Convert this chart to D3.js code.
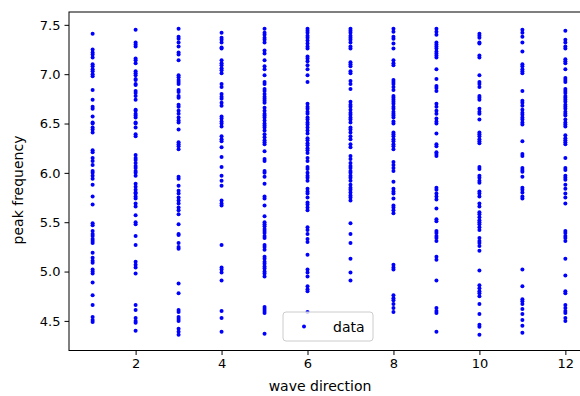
<!DOCTYPE html>
<html>
<head>
<meta charset="utf-8">
<script src="https://cdn.jsdelivr.net/npm/d3@7"></script>
<style>
  body { margin: 0; background: #fff; }
  svg { display: block; font-family: "DejaVu Sans", sans-serif; }
</style>
</head>
<body>
<div id="chart"></div>
<script>
// wave direction categories (x)
const directions = [1, 2, 3, 4, 5, 6, 7, 8, 9, 10, 11, 12];

// peak frequency values per direction
const dir1 = [7.41, 7.25, 7.22, 7.20, 7.17, 7.10, 7.08, 7.05, 7.03, 7.00, 6.98, 6.84, 6.74, 6.67, 6.65, 6.57, 6.51, 6.50, 6.46, 6.44, 6.41, 6.23, 6.21, 6.15, 6.12, 6.08, 6.02, 6.00, 5.97, 5.94, 5.88, 5.76, 5.68, 5.49, 5.47, 5.41, 5.38, 5.36, 5.33, 5.31, 5.29, 5.19, 5.14, 5.11, 5.09, 5.02, 5.00, 4.98, 4.89, 4.76, 4.66, 4.54, 4.51, 4.49];
const dir2 = [7.45, 7.32, 7.30, 7.28, 7.16, 7.14, 7.11, 7.03, 7.01, 6.99, 6.95, 6.94, 6.90, 6.89, 6.83, 6.81, 6.78, 6.74, 6.64, 6.63, 6.60, 6.58, 6.56, 6.51, 6.50, 6.46, 6.39, 6.37, 6.18, 6.15, 6.13, 6.10, 6.07, 6.05, 6.02, 6.00, 5.97, 5.89, 5.86, 5.83, 5.80, 5.79, 5.76, 5.74, 5.69, 5.66, 5.57, 5.50, 5.48, 5.36, 5.27, 5.10, 5.07, 5.04, 4.98, 4.66, 4.61, 4.53, 4.50, 4.48, 4.40];
const dir3 = [7.46, 7.38, 7.36, 7.32, 7.28, 7.22, 7.20, 7.14, 6.99, 6.97, 6.94, 6.92, 6.90, 6.84, 6.82, 6.78, 6.76, 6.69, 6.67, 6.63, 6.60, 6.56, 6.53, 6.51, 6.44, 6.31, 6.29, 6.27, 6.24, 5.96, 5.94, 5.87, 5.82, 5.79, 5.75, 5.72, 5.69, 5.65, 5.62, 5.58, 5.48, 5.38, 5.37, 5.29, 5.25, 5.23, 4.88, 4.78, 4.61, 4.59, 4.54, 4.52, 4.50, 4.42, 4.39, 4.36];
const dir4 = [7.42, 7.37, 7.35, 7.32, 7.27, 7.26, 7.14, 7.11, 7.09, 7.06, 7.04, 7.01, 6.90, 6.87, 6.80, 6.77, 6.75, 6.71, 6.68, 6.57, 6.55, 6.52, 6.50, 6.47, 6.37, 6.34, 6.32, 6.26, 6.16, 6.06, 5.97, 5.92, 5.87, 5.72, 5.69, 5.67, 5.27, 5.04, 5.02, 4.99, 4.91, 4.60, 4.53, 4.39];
const dir5 = [7.46, 7.42, 7.40, 7.37, 7.35, 7.32, 7.24, 7.21, 7.14, 7.08, 7.05, 6.99, 6.92, 6.90, 6.85, 6.83, 6.80, 6.77, 6.75, 6.73, 6.71, 6.66, 6.63, 6.60, 6.58, 6.56, 6.53, 6.50, 6.48, 6.46, 6.43, 6.39, 6.36, 6.33, 6.31, 6.29, 6.22, 6.14, 6.12, 6.02, 6.00, 5.96, 5.89, 5.76, 5.74, 5.67, 5.56, 5.50, 5.48, 5.46, 5.43, 5.41, 5.39, 5.36, 5.34, 5.27, 5.25, 5.22, 5.15, 5.13, 5.10, 5.08, 5.05, 5.03, 5.00, 4.98, 4.95, 4.64, 4.62, 4.60, 4.58, 4.37];
const dir6 = [7.46, 7.44, 7.42, 7.39, 7.37, 7.34, 7.31, 7.28, 7.26, 7.18, 7.16, 7.13, 7.09, 7.05, 6.99, 6.92, 6.70, 6.67, 6.65, 6.62, 6.60, 6.56, 6.54, 6.51, 6.49, 6.46, 6.43, 6.40, 6.35, 6.33, 6.30, 6.28, 6.25, 6.23, 6.20, 6.15, 6.12, 6.06, 6.04, 6.00, 5.97, 5.95, 5.92, 5.84, 5.81, 5.79, 5.75, 5.70, 5.68, 5.65, 5.62, 5.45, 5.42, 5.38, 5.33, 5.30, 5.17, 5.02, 4.99, 4.95, 4.85, 4.82, 4.80, 4.59];
const dir7 = [7.46, 7.44, 7.42, 7.39, 7.37, 7.35, 7.32, 7.28, 7.26, 7.12, 7.10, 7.08, 7.03, 7.01, 6.93, 6.90, 6.85, 6.72, 6.69, 6.67, 6.64, 6.61, 6.59, 6.56, 6.54, 6.51, 6.46, 6.44, 6.41, 6.37, 6.34, 6.29, 6.26, 6.17, 6.14, 6.10, 6.07, 6.05, 6.02, 6.00, 5.97, 5.95, 5.92, 5.88, 5.85, 5.83, 5.80, 5.77, 5.75, 5.72, 5.49, 5.38, 5.29, 5.13, 4.99, 4.91];
const dir8 = [7.46, 7.43, 7.38, 7.36, 7.31, 7.26, 7.14, 7.11, 7.09, 6.94, 6.92, 6.90, 6.87, 6.84, 6.78, 6.76, 6.74, 6.72, 6.70, 6.67, 6.65, 6.62, 6.60, 6.58, 6.56, 6.52, 6.50, 6.41, 6.39, 6.37, 6.34, 6.32, 6.29, 6.27, 6.24, 6.11, 6.08, 6.05, 6.02, 5.91, 5.84, 5.81, 5.79, 5.74, 5.67, 5.65, 5.62, 5.59, 5.07, 5.04, 5.02, 4.76, 4.73, 4.71, 4.67, 4.63, 4.59];
const dir9 = [7.46, 7.43, 7.40, 7.32, 7.30, 7.28, 7.26, 7.23, 7.21, 7.19, 7.17, 7.05, 6.95, 6.88, 6.86, 6.83, 6.70, 6.67, 6.63, 6.60, 6.55, 6.52, 6.50, 6.40, 6.29, 6.27, 6.21, 6.19, 6.17, 5.85, 5.83, 5.79, 5.76, 5.73, 5.64, 5.53, 5.51, 5.41, 5.39, 5.36, 5.34, 5.31, 5.15, 5.12, 4.91, 4.63, 4.60, 4.58, 4.39];
const dir10 = [7.41, 7.39, 7.37, 7.32, 7.31, 7.19, 7.17, 6.99, 6.92, 6.90, 6.87, 6.78, 6.76, 6.74, 6.65, 6.62, 6.60, 6.54, 6.41, 6.39, 6.37, 6.34, 6.32, 6.30, 6.06, 6.04, 5.97, 5.95, 5.92, 5.90, 5.81, 5.79, 5.76, 5.69, 5.66, 5.60, 5.58, 5.55, 5.52, 5.50, 5.48, 5.45, 5.42, 5.34, 5.31, 5.29, 5.26, 5.21, 5.01, 4.86, 4.83, 4.80, 4.78, 4.75, 4.67, 4.57, 4.46, 4.44, 4.36];
const dir11 = [7.45, 7.42, 7.38, 7.32, 7.23, 7.10, 7.08, 7.05, 7.03, 7.01, 6.83, 6.73, 6.71, 6.68, 6.64, 6.61, 6.59, 6.56, 6.54, 6.51, 6.49, 6.32, 6.19, 6.17, 6.05, 6.03, 6.01, 5.96, 5.85, 5.83, 5.80, 5.76, 5.74, 5.02, 4.85, 4.72, 4.70, 4.67, 4.62, 4.57, 4.51, 4.45, 4.38];
const dir12 = [7.44, 7.35, 7.32, 7.28, 7.26, 7.15, 7.13, 7.11, 7.05, 6.96, 6.94, 6.92, 6.85, 6.83, 6.81, 6.78, 6.76, 6.74, 6.72, 6.69, 6.67, 6.65, 6.62, 6.60, 6.58, 6.54, 6.51, 6.49, 6.47, 6.38, 6.35, 6.33, 6.31, 6.29, 6.15, 6.05, 6.03, 5.97, 5.95, 5.93, 5.88, 5.84, 5.79, 5.75, 5.69, 5.41, 5.39, 5.36, 5.34, 5.31, 5.13, 4.96, 4.80, 4.78, 4.66, 4.63, 4.60, 4.58, 4.53, 4.50];

const xTicks = [2, 4, 6, 8, 10, 12];
const yTicks = [4.5, 5.0, 5.5, 6.0, 6.5, 7.0, 7.5];

const columns = [dir1, dir2, dir3, dir4, dir5, dir6, dir7, dir8, dir9, dir10, dir11, dir12];
const points = [];
columns.forEach((vals, i) => {
  vals.forEach(v => points.push({ dir: directions[i], freq: v }));
});

const width = 580, height = 396;
const plot = { left: 69, right: 589, top: 12, bottom: 350.5 };

const svg = d3.select('#chart').append('svg')
  .attr('width', width)
  .attr('height', height);

const x = d3.scaleLinear().domain([0.45, 12.55]).range([plot.left, plot.right]);
const y = d3.scaleLinear().domain([4.2, 7.63]).range([plot.bottom, plot.top]);

// points
svg.append('g')
  .selectAll('circle')
  .data(points)
  .enter().append('circle')
  .attr('cx', d => x(d.dir))
  .attr('cy', d => y(d.freq))
  .attr('r', 2)
  .attr('fill', '#0000ff');

// axes
const xAxis = svg.append('g')
  .attr('transform', `translate(0,${plot.bottom})`)
  .call(d3.axisBottom(x).tickValues(xTicks).tickSize(4.5).tickPadding(4).tickFormat(d3.format('d')));
const yAxis = svg.append('g')
  .attr('transform', `translate(${plot.left},0)`)
  .call(d3.axisLeft(y).tickValues(yTicks).tickSize(4.5).tickPadding(4).tickFormat(d3.format('.1f')));

[xAxis, yAxis].forEach(g => {
  g.select('.domain').remove();
  g.selectAll('line').attr('stroke', '#000').attr('stroke-width', 1);
  g.selectAll('text').attr('fill', '#000').style('font-size', '13px')
    .style('font-family', '"DejaVu Sans", sans-serif');
});

// frame
svg.append('rect')
  .attr('x', plot.left).attr('y', plot.top)
  .attr('width', plot.right - plot.left).attr('height', plot.bottom - plot.top)
  .attr('fill', 'none').attr('stroke', '#000').attr('stroke-width', 1);

// axis titles
svg.append('text')
  .attr('x', 320).attr('y', 391)
  .attr('text-anchor', 'middle').style('font-size', '14px')
  .text('wave direction');
svg.append('text')
  .attr('transform', `translate(23,190) rotate(-90)`)
  .attr('text-anchor', 'middle').style('font-size', '14px')
  .text('peak frequency');

// legend
const legend = svg.append('g').attr('transform', 'translate(283,312)');
legend.append('rect')
  .attr('width', 90).attr('height', 29).attr('rx', 3)
  .attr('fill', '#fff').attr('fill-opacity', 0.8)
  .attr('stroke', '#ccc');
legend.append('circle')
  .attr('cx', 21).attr('cy', 14.5).attr('r', 2).attr('fill', '#0000ff');
legend.append('text')
  .attr('x', 50).attr('y', 19.5).style('font-size', '14px')
  .text('data');
</script>
</body>
</html>
